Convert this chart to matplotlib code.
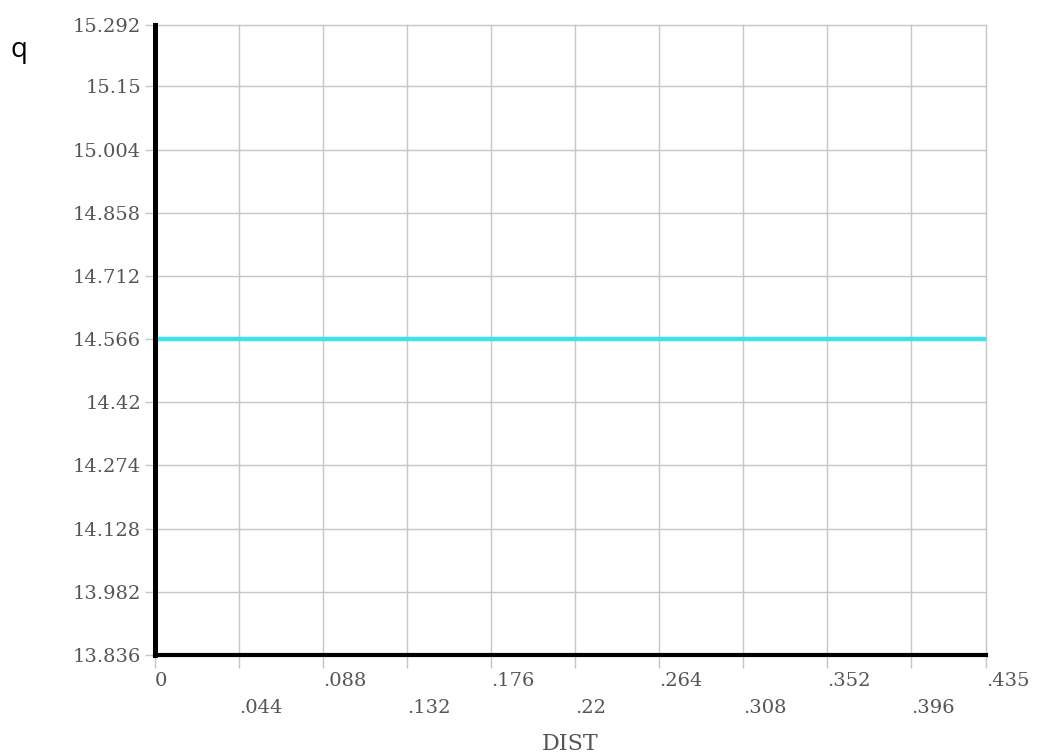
import numpy as np
import matplotlib
matplotlib.use('Agg')
import matplotlib.pyplot as plt

# 数据
dist = [0.0, 0.435]
q_vals = [14.566, 14.566]

y_ticks = [13.836, 13.982, 14.128, 14.274, 14.42, 14.566, 14.712, 14.858, 15.004, 15.15, 15.292]
y_labels = ['13.836', '13.982', '14.128', '14.274', '14.42', '14.566', '14.712', '14.858', '15.004', '15.15', '15.292']
x_major = [0.0, 0.088, 0.176, 0.264, 0.352, 0.435]
x_major_labels = ['0', '.088', '.176', '.264', '.352', '.435']
x_minor = [0.044, 0.132, 0.22, 0.308, 0.396]
x_minor_labels = ['.044', '.132', '.22', '.308', '.396']

lab_font = dict(family='DejaVu Serif', size=14, color='#555555')
grid_c = '#c6c6c6'

fig = plt.figure(figsize=(10.5, 7.56), dpi=100)
ax = fig.add_axes([155 / 1050, 1 - 655 / 756, (986 - 155) / 1050, (655 - 25) / 756])

ax.plot(dist, q_vals, color='#3fe2ea', lw=3.2, zorder=3)

ax.set_xlim(0, 0.435)
ax.set_ylim(13.836, 15.292)

ax.set_yticks(y_ticks)
ax.set_yticklabels(y_labels, fontdict=lab_font)
ax.set_xticks(x_major)
ax.set_xticklabels(x_major_labels, fontdict=lab_font, ha='left')
ax.set_xticks(x_minor, minor=True)
ax.set_xticklabels(x_minor_labels, fontdict=lab_font, ha='left', minor=True)

ax.grid(True, which='both', color=grid_c, lw=1.0, zorder=1)
# 边缘的网格线不要被裁掉
for t in ax.xaxis.get_major_ticks() + ax.xaxis.get_minor_ticks() + ax.yaxis.get_major_ticks():
    t.gridline.set_clip_on(False)

for s in ['top', 'right']:
    ax.spines[s].set_visible(False)
ax.spines['left'].set_linewidth(3.6)
ax.spines['bottom'].set_linewidth(3.0)
ax.spines['left'].set_zorder(4)
ax.spines['bottom'].set_zorder(4)

ax.tick_params(axis='x', which='major', direction='out', length=9, width=1.0, color=grid_c, pad=3.5)
ax.tick_params(axis='x', which='minor', direction='out', length=9, width=1.0, color=grid_c, pad=22.5)
ax.tick_params(axis='y', direction='out', length=7, width=1.0, color=grid_c, pad=3)

# 标签
fig.text(0.543, 1 - 744 / 756, 'DIST', ha='center', va='center', family='DejaVu Serif', size=16, color='#555555')
fig.text(19 / 1050, 1 - 50 / 756, 'q', ha='center', va='center', family='Open Sans', size=20, color='black')

fig.savefig('out.png', dpi=100)
